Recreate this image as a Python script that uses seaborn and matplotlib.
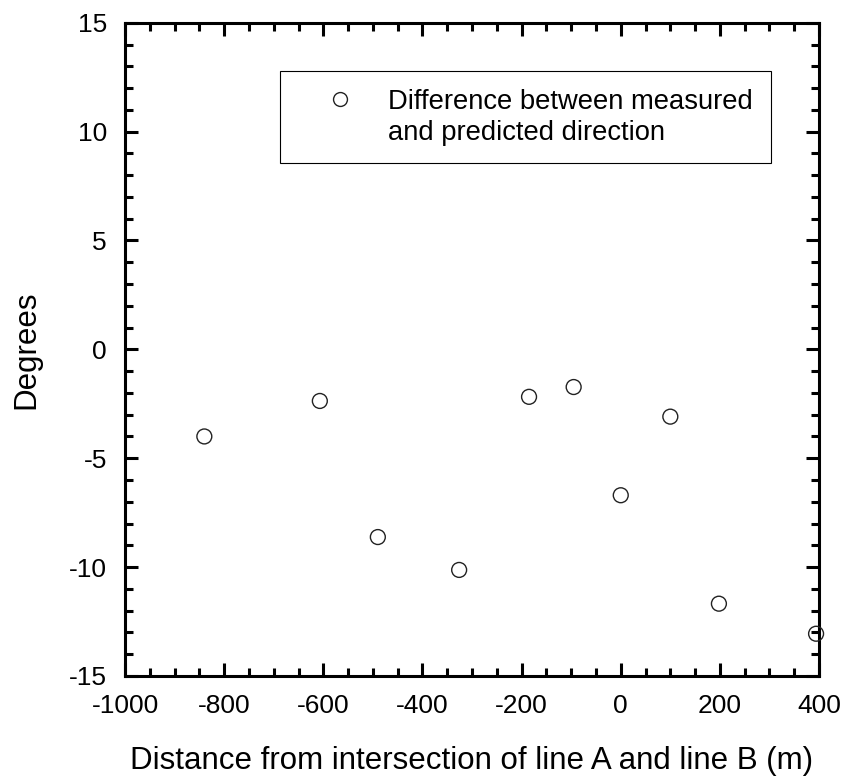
import numpy as np
import pandas as pd
import matplotlib
matplotlib.use("Agg")
import matplotlib.pyplot as plt
from matplotlib.ticker import MultipleLocator
import seaborn as sns

# values
distance_m = [-840, -607, -490, -326, -185, -95, 0, 100, 198, 394]
diff_deg = [-4.0, -2.37, -8.62, -10.13, -2.18, -1.73, -6.70, -3.09, -11.68, -13.06]
legend_lines = ["Difference between measured", "and predicted direction"]

x_ticks = [-1000, -800, -600, -400, -200, 0, 200, 400]
y_ticks = [-15, -10, -5, 0, 5, 10, 15]

sns.set_theme(style="ticks")
plt.rcParams["font.family"] = ["Liberation Sans", "DejaVu Sans"]
plt.rcParams["axes.unicode_minus"] = False
plt.rcParams["text.color"] = "black"
plt.rcParams["axes.labelcolor"] = "black"

df = pd.DataFrame({"x": distance_m, "y": diff_deg})

fig = plt.figure(figsize=(8.47, 7.76), dpi=100)
ax = fig.add_axes([0.1476, 0.1289, 0.8194, 0.8418])

sns.scatterplot(
    data=df, x="x", y="y",
    marker="o", s=115, facecolor="none", edgecolor="#222222",
    linewidth=1.0, ax=ax, clip_on=False, zorder=3, legend=False,
)

ax.set_xlim(-1000, 400)
ax.set_ylim(-15, 15)
ax.set_xticks(x_ticks)
ax.set_yticks(y_ticks)
ax.xaxis.set_minor_locator(MultipleLocator(50))
ax.yaxis.set_minor_locator(MultipleLocator(1))
ax.tick_params(which="both", direction="in", top=True, right=True,
               labeltop=False, labelright=False, width=2.2, colors="black",
               labelsize=19)
ax.tick_params(axis="x", which="major", pad=13)
ax.tick_params(axis="y", which="major", pad=13)
ax.tick_params(which="major", length=9.5)
ax.tick_params(which="minor", length=6)
for sp in ax.spines.values():
    sp.set_linewidth(2.2)
    sp.set_color("black")

ax.set_xlabel("Distance from intersection of line A and line B (m)",
              fontsize=22.5, labelpad=20)
ax.set_ylabel("Degrees", fontsize=22.5, labelpad=20)

# marker sits on the first text line, so the label is split over two entries
h1 = plt.Line2D([], [], marker="o", linestyle="none", markersize=10,
                markerfacecolor="none", markeredgecolor="#222222",
                markeredgewidth=1.0)
h2 = plt.Line2D([], [], linestyle="none")
leg = ax.legend([h1, h2], legend_lines, loc="upper left",
                bbox_to_anchor=(0.2233, 0.926), borderaxespad=0,
                fancybox=False, edgecolor="black", framealpha=1,
                fontsize=19.7, handlelength=3.1, handletextpad=0.2,
                borderpad=0.65, labelspacing=0.17)
leg.get_frame().set_linewidth(0.8)

fig.savefig("out.png", dpi=100)
